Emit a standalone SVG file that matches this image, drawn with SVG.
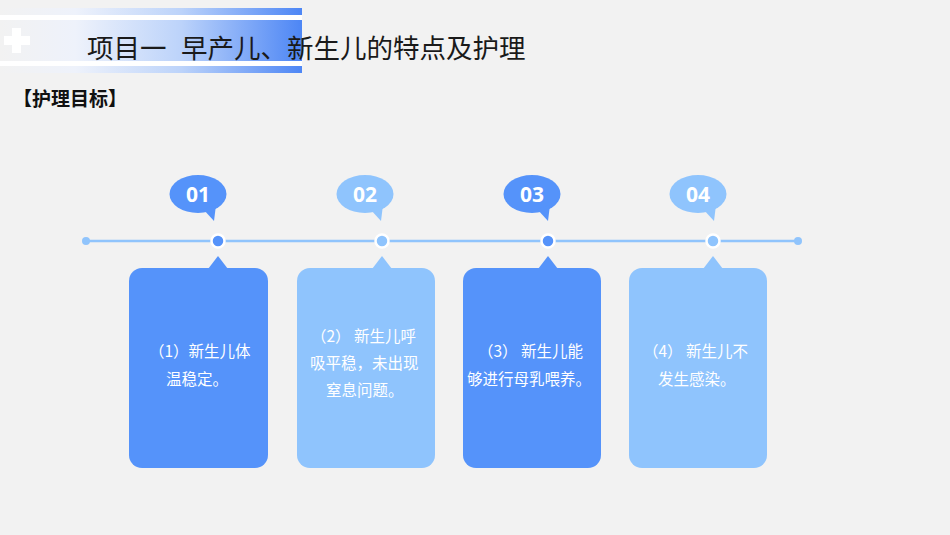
<svg xmlns="http://www.w3.org/2000/svg" width="950" height="535" viewBox="0 0 950 535">
<defs>
<linearGradient id="hdr" x1="0" y1="0" x2="1" y2="0">
<stop offset="0" stop-color="#f2f2f2"/>
<stop offset="0.25" stop-color="#eef2fb"/>
<stop offset="0.6" stop-color="#bcd3fa"/>
<stop offset="1" stop-color="#4d86f5"/>
</linearGradient>
<style>
.dk{fill:#5593fa}
.lt{fill:#8fc4fd}
.num{font-family:"Open Sans","Noto Sans",sans-serif;font-weight:bold;font-size:21px;fill:#ffffff;text-anchor:middle}
.ct{font-family:"Noto Sans CJK SC","Noto Sans",sans-serif;font-size:15.5px;fill:#ffffff}
.dot{stroke:#ffffff;stroke-width:2.5}
.ttl{font-family:"Noto Sans CJK SC",sans-serif;font-size:26.5px;fill:#1a1a1a}
</style>
</defs>
<rect width="950" height="535" fill="#f2f2f2"/>
<g id="header">
<rect x="0" y="8" width="302" height="65" fill="url(#hdr)"/>
<rect x="0" y="15" width="302" height="5" fill="#ffffff"/>
<rect x="0" y="61" width="302" height="5" fill="#ffffff"/>
<path d="M12 28h9v8h9v9h-9v8h-9v-8h-8v-9h8z" fill="#ffffff"/>
<text class="ttl" x="87" y="58">项目一</text>
<text class="ttl" x="181" y="58">早产儿、新生儿的特点及护理</text>
</g>
<g id="subtitle">
<text x="13" y="106" font-family="Noto Sans CJK SC, sans-serif" font-size="19" font-weight="bold" fill="#111111">【护理目标】</text>
</g>
<g id="connectors">
<line x1="86" y1="241" x2="798" y2="241" stroke="#90c4fc" stroke-width="2.5"/>
<circle cx="86" cy="241" r="4" fill="#90c4fc"/>
<circle cx="798" cy="241" r="4" fill="#90c4fc"/>
</g>
<g id="node1">
<ellipse class="dk" cx="198" cy="194" rx="28.5" ry="19"/>
<path class="dk" d="M203 209l13-4l-2 16z"/>
<text class="num" x="198" y="202">01</text>
<circle class="dot dk" cx="218" cy="241" r="6.5"/>
<path class="dk" d="M218 256l10 13h-20z"/>
<rect class="dk" x="129" y="268" width="139" height="200" rx="13"/>
<text class="ct" x="149" y="357">（1）新生儿体</text>
<text class="ct" x="166" y="385">温稳定。</text>
</g>
<g id="node2">
<ellipse class="lt" cx="365" cy="194" rx="28.5" ry="19"/>
<path class="lt" d="M370 209l13-4l-2 16z"/>
<text class="num" x="365" y="202">02</text>
<circle class="dot lt" cx="382" cy="241" r="6.5"/>
<path class="lt" d="M382 256l10 13h-20z"/>
<rect class="lt" x="297" y="268" width="138" height="200" rx="13"/>
<text class="ct" x="311" y="342" font-size="16">（2） 新生儿呼</text>
<text class="ct" x="310" y="369" font-size="16">吸平稳，未出现</text>
<text class="ct" x="326" y="396" font-size="16">窒息问题。</text>
</g>
<g id="node3">
<ellipse class="dk" cx="532" cy="194" rx="28.5" ry="19"/>
<path class="dk" d="M537 209l13-4l-2 16z"/>
<text class="num" x="532" y="202">03</text>
<circle class="dot dk" cx="548" cy="241" r="6.5"/>
<path class="dk" d="M548 256l10 13h-20z"/>
<rect class="dk" x="463" y="268" width="138" height="200" rx="13"/>
<text class="ct" x="478" y="357">（3） 新生儿能</text>
<text class="ct" x="467" y="385">够进行母乳喂养。</text>
</g>
<g id="node4">
<ellipse class="lt" cx="698" cy="194" rx="28.5" ry="19"/>
<path class="lt" d="M703 209l13-4l-2 16z"/>
<text class="num" x="698" y="202">04</text>
<circle class="dot lt" cx="713" cy="241" r="6.5"/>
<path class="lt" d="M713 256l10 13h-20z"/>
<rect class="lt" x="629" y="268" width="138" height="200" rx="13"/>
<text class="ct" x="643" y="357">（4） 新生儿不</text>
<text class="ct" x="658" y="385">发生感染。</text>
</g>
</svg>
